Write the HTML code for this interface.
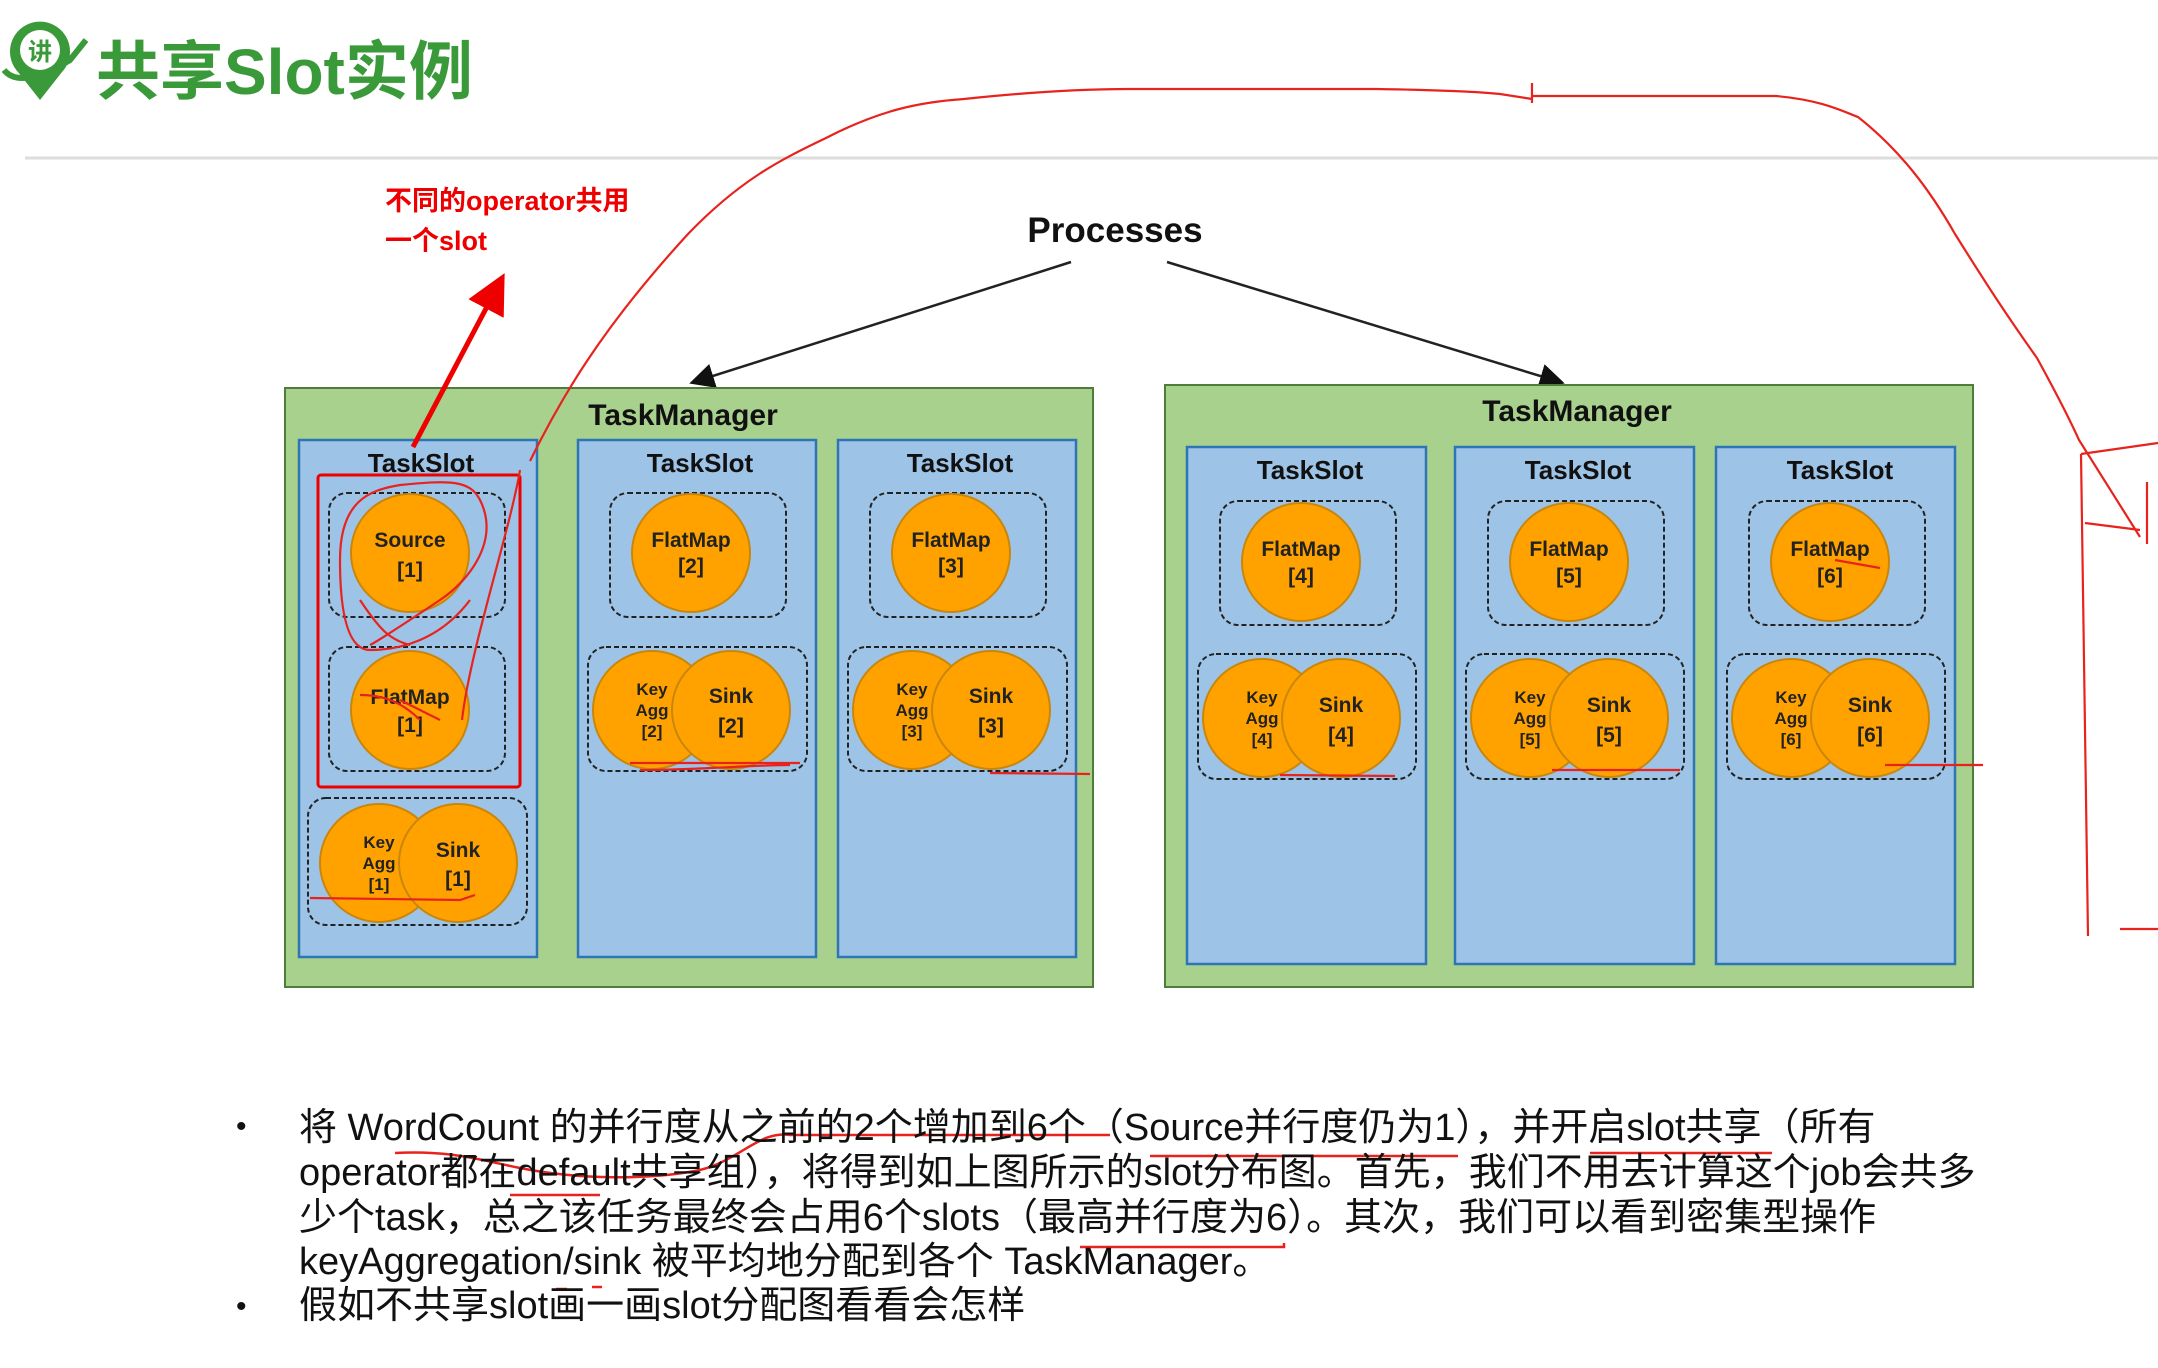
<!DOCTYPE html>
<html><head><meta charset="utf-8"><style>
html,body{margin:0;padding:0;background:#fff;}
body{width:2158px;height:1368px;position:relative;overflow:hidden;font-family:"Liberation Sans","Noto Sans CJK SC",sans-serif;}
.t{position:absolute;left:299px;font-size:38px;color:#111;white-space:nowrap;line-height:44px;}
.b{position:absolute;left:236px;font-size:30px;color:#111;}
</style></head><body>
<svg width="2158" height="1368" style="position:absolute;left:0;top:0" xmlns="http://www.w3.org/2000/svg" font-family="Liberation Sans, Noto Sans CJK SC, sans-serif">
<defs><marker id="ah" markerWidth="10" markerHeight="10" refX="8" refY="5" orient="auto"><path d="M0,0 L10,5 L0,10 z" fill="#111"/></marker>
<marker id="rh" markerWidth="8" markerHeight="8" refX="6" refY="4" orient="auto"><path d="M0,0 L8,4 L0,8 z" fill="#e00"/></marker></defs>
<!-- logo -->
<path d="M40,100 L18,72 A30,30 0 1 1 62,72 Z" fill="#3a9a3a"/>
<circle cx="40" cy="50" r="20" fill="#fff"/>
<text x="40" y="60" font-size="24" text-anchor="middle" fill="#3a9a3a" font-weight="bold">讲</text>
<path d="M4,70 Q20,90 70,60 L86,40" stroke="#3a9a3a" stroke-width="6" fill="none"/>
<text x="96" y="94" font-size="64" font-weight="bold" fill="#3a9a3a">共享Slot实例</text>
<line x1="25" y1="158" x2="2158" y2="158" stroke="#ddd" stroke-width="3"/>
<!-- red note -->
<g font-size="27" font-weight="bold" fill="#e00" stroke="#fff" stroke-width="5" paint-order="stroke">
<text x="385" y="210">不同的operator共用</text><text x="385" y="250">一个slot</text></g>
<!-- Processes -->
<text x="1115" y="242" font-size="35" font-weight="bold" text-anchor="middle" fill="#111">Processes</text>
<line x1="1071" y1="262" x2="694" y2="382" stroke="#222" stroke-width="2.5" marker-end="url(#ah)"/>
<line x1="1167" y1="262" x2="1560" y2="382" stroke="#222" stroke-width="2.5" marker-end="url(#ah)"/>
<!-- TaskManagers -->
<rect x="285" y="388" width="808" height="599" fill="#a9d18e" stroke="#4e7d3a" stroke-width="2"/>
<text x="683" y="425" font-size="30" font-weight="bold" text-anchor="middle" fill="#111">TaskManager</text>
<rect x="1165" y="385" width="808" height="602" fill="#a9d18e" stroke="#4e7d3a" stroke-width="2"/>
<text x="1577" y="421" font-size="30" font-weight="bold" text-anchor="middle" fill="#111">TaskManager</text>
<g fill="#9dc3e6" stroke="#2e75b6" stroke-width="2.5">
<rect x="299" y="440" width="238" height="517"/><rect x="578" y="440" width="238" height="517"/><rect x="838" y="440" width="238" height="517"/>
<rect x="1187" y="447" width="239" height="517"/><rect x="1455" y="447" width="239" height="517"/><rect x="1716" y="447" width="239" height="517"/>
</g>
<g font-size="26" font-weight="bold" text-anchor="middle" fill="#111">
<text x="421" y="472">TaskSlot</text><text x="700" y="472">TaskSlot</text><text x="960" y="472">TaskSlot</text>
<text x="1310" y="479">TaskSlot</text><text x="1578" y="479">TaskSlot</text><text x="1840" y="479">TaskSlot</text>
</g>
<!-- dashed groups -->
<g fill="none" stroke="#222" stroke-width="2" stroke-dasharray="5,3">
<rect x="329" y="493" width="176" height="124" rx="18"/><rect x="329" y="647" width="176" height="124" rx="18"/><rect x="308" y="798" width="219" height="127" rx="18"/>
<rect x="610" y="493" width="176" height="124" rx="18"/><rect x="588" y="647" width="219" height="124" rx="18"/>
<rect x="870" y="493" width="176" height="124" rx="18"/><rect x="848" y="647" width="219" height="124" rx="18"/>
<rect x="1220" y="501" width="176" height="124" rx="18"/><rect x="1198" y="654" width="218" height="125" rx="18"/>
<rect x="1488" y="501" width="176" height="124" rx="18"/><rect x="1466" y="654" width="218" height="125" rx="18"/>
<rect x="1749" y="501" width="176" height="124" rx="18"/><rect x="1727" y="654" width="218" height="125" rx="18"/>
</g>
<!-- circles -->
<g fill="#ffa200" stroke="#c9860d" stroke-width="2">
<circle cx="410" cy="553" r="59"/><circle cx="410" cy="710" r="59"/>
<circle cx="379" cy="863" r="59"/><circle cx="458" cy="863" r="59"/>
<circle cx="691" cy="553" r="59"/><circle cx="652" cy="710" r="59"/><circle cx="731" cy="710" r="59"/>
<circle cx="951" cy="553" r="59"/><circle cx="912" cy="710" r="59"/><circle cx="991" cy="710" r="59"/>
<circle cx="1301" cy="562" r="59"/><circle cx="1262" cy="718" r="59"/><circle cx="1341" cy="718" r="59"/>
<circle cx="1569" cy="562" r="59"/><circle cx="1530" cy="718" r="59"/><circle cx="1609" cy="718" r="59"/>
<circle cx="1830" cy="562" r="59"/><circle cx="1791" cy="718" r="59"/><circle cx="1870" cy="718" r="59"/>
</g>
<g font-size="21" font-weight="bold" text-anchor="middle" fill="#222">
<text x="410" y="547">Source</text><text x="410" y="577">[1]</text>
<text x="410" y="704">FlatMap</text><text x="410" y="732">[1]</text>
<text x="691" y="547">FlatMap</text><text x="691" y="573">[2]</text>
<text x="951" y="547">FlatMap</text><text x="951" y="573">[3]</text>
<text x="1301" y="556">FlatMap</text><text x="1301" y="583">[4]</text>
<text x="1569" y="556">FlatMap</text><text x="1569" y="583">[5]</text>
<text x="1830" y="556">FlatMap</text><text x="1830" y="583">[6]</text>
<text x="458" y="857">Sink</text><text x="458" y="886">[1]</text>
<text x="731" y="703">Sink</text><text x="731" y="733">[2]</text>
<text x="991" y="703">Sink</text><text x="991" y="733">[3]</text>
<text x="1341" y="712">Sink</text><text x="1341" y="742">[4]</text>
<text x="1609" y="712">Sink</text><text x="1609" y="742">[5]</text>
<text x="1870" y="712">Sink</text><text x="1870" y="742">[6]</text>
</g>
<g font-size="17" font-weight="bold" text-anchor="middle" fill="#222">
<text x="379" y="848">Key</text><text x="379" y="869">Agg</text><text x="379" y="890">[1]</text>
<text x="652" y="695">Key</text><text x="652" y="716">Agg</text><text x="652" y="737">[2]</text>
<text x="912" y="695">Key</text><text x="912" y="716">Agg</text><text x="912" y="737">[3]</text>
<text x="1262" y="703">Key</text><text x="1262" y="724">Agg</text><text x="1262" y="745">[4]</text>
<text x="1530" y="703">Key</text><text x="1530" y="724">Agg</text><text x="1530" y="745">[5]</text>
<text x="1791" y="703">Key</text><text x="1791" y="724">Agg</text><text x="1791" y="745">[6]</text>
</g>
<!-- red annotations -->
<line x1="413" y1="447" x2="500" y2="282" stroke="#e00" stroke-width="5" marker-end="url(#rh)"/>
<rect x="318" y="475" width="202" height="312" fill="none" stroke="#e00" stroke-width="3" rx="3"/>
<g fill="none" stroke="#e8231e" stroke-width="2.2">
<path d="M530,461 C560,400 600,330 688,234 C740,180 780,160 826,138 C880,110 920,102 964,99 C1030,92 1080,89 1129,89 L1376,89 C1440,90 1480,92 1500,94 L1532,99 M1532,83 L1532,103 M1532,96 L1776,96 C1820,100 1840,110 1858,117 C1900,150 1930,190 1955,234 C1990,290 2010,320 2037,358 C2060,400 2070,420 2079,440 L2140,537"/>
<path d="M2081,454 L2158,443 M2081,454 L2088,936 M2085,523 L2140,530 M2147,482 L2147,544 M2120,929 L2158,929"/>
<path d="M520,470 C510,530 470,650 462,720 M470,600 C440,640 400,650 370,650 C350,650 340,620 340,560 C340,500 370,490 400,485 C450,480 470,480 480,500 C500,540 470,580 440,600 C410,620 380,640 370,645 M360,600 C380,630 390,640 410,645"/>
<path d="M360,695 C380,695 400,700 420,720 M310,898 L460,900 L475,895"/>
<path d="M630,763 L800,763 M640,770 C700,770 750,765 790,765 M990,773 L1090,774 M1280,775 L1395,776 M1552,770 L1680,770 M1885,765 L1983,765 M1835,560 L1880,568 M400,700 L440,720"/>
</g>
<g fill="none" stroke="#e8231e" stroke-width="2.5">
<path d="M395,1153 C450,1150 480,1160 520,1168 C580,1180 650,1180 700,1170 C740,1160 760,1130 790,1135 L1110,1135"/>
<path d="M1150,1156 L1458,1156 M1590,1153 L1772,1153 M510,1195 L600,1195 M1080,1247 L1284,1247 L1284,1243 M556,1289 L567,1289 M592,1287 L602,1287"/>
</g>
</svg>
<div class="b" style="top:1110px">•</div>
<div class="b" style="top:1290px">•</div>
<div class="t" style="top:1106px">将 WordCount 的并行度从之前的2个增加到6个（Source并行度仍为1），并开启slot共享（所有</div>
<div class="t" style="top:1151px">operator都在default共享组），将得到如上图所示的slot分布图。首先，我们不用去计算这个job会共多</div>
<div class="t" style="top:1196px">少个task，总之该任务最终会占用6个slots（最高并行度为6）。其次，我们可以看到密集型操作</div>
<div class="t" style="top:1240px">keyAggregation/sink 被平均地分配到各个 TaskManager。</div>
<div class="t" style="top:1284px">假如不共享slot画一画slot分配图看看会怎样</div>
</body></html>
